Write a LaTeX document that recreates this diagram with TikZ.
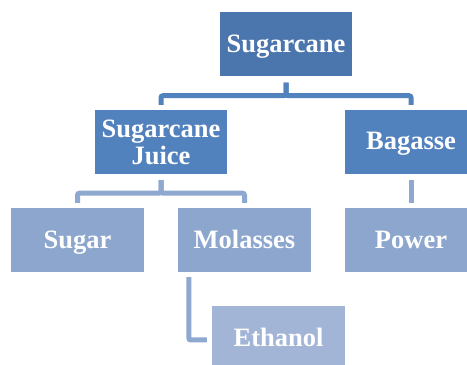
\documentclass[tikz,border=0pt]{standalone}
\usepackage{fontspec}
\setmainfont{Liberation Serif}
\begin{document}
\begin{tikzpicture}[x=1pt,y=1pt,
  box/.style={rectangle, inner sep=0pt, minimum width=132pt, minimum height=64pt,
    text=white, font=\fontsize{26.5}{27}\selectfont\bfseries, align=center},
  oneline/.style={text height=18pt, text depth=2pt},
  lvla/.style={box, oneline, fill=cane},
  lvlb/.style={box, fill=midblue},
  lvlc/.style={box, oneline, fill=lightblue},
  lvld/.style={box, oneline, fill=paleblue},
  conn/.style={line width=5pt, rounded corners=2pt},
]
\definecolor{cane}{HTML}{4A75AD}
\definecolor{midblue}{HTML}{5282BE}
\definecolor{lightblue}{HTML}{8CA6CE}
\definecolor{paleblue}{HTML}{A3B5D7}
\definecolor{connA}{HTML}{5282BE}
\definecolor{connB}{HTML}{8EA8D0}
\clip (0,0) rectangle (467,365);
\fill[white] (0,0) rectangle (467,365);

\node[lvla] (cane) at (286,320.5) {Sugarcane};
\node[lvlb] (juice) at (161,223) {Sugarcane\\Juice};
\node[lvlb, oneline] (bag) at (411,223) {Bagasse};
\node[lvlc, minimum width=133pt] (sugar) at (77.5,125) {Sugar};
\node[lvlc, minimum width=133pt] (mol) at (244.5,125) {Molasses};
\node[lvlc] (power) at (411,125) {Power};
\node[lvld, minimum width=133pt] (eth) at (278.5,27) {Ethanol};

\draw[conn, connA, shorten <=6pt, shorten >=5pt] (cane.south) -- ++(0,-19) -| (juice.north);
\draw[conn, connA, shorten <=6pt, shorten >=5pt] (cane.south) -- ++(0,-19) -| (bag.north);
\draw[conn, connB, shorten <=6pt, shorten >=5pt] (juice.south) -- ++(0,-19) -| (sugar.north);
\draw[conn, connB, shorten <=6pt, shorten >=5pt] (juice.south) -- ++(0,-19) -| (mol.north);
\draw[conn, connB, shorten <=6pt, shorten >=5pt] (bag.south) -- (power.north);
\draw[conn, connB, shorten <=5pt, shorten >=5pt] ([xshift=11pt]mol.south west) |- ([yshift=-2pt]eth.west);
\end{tikzpicture}
\end{document}
